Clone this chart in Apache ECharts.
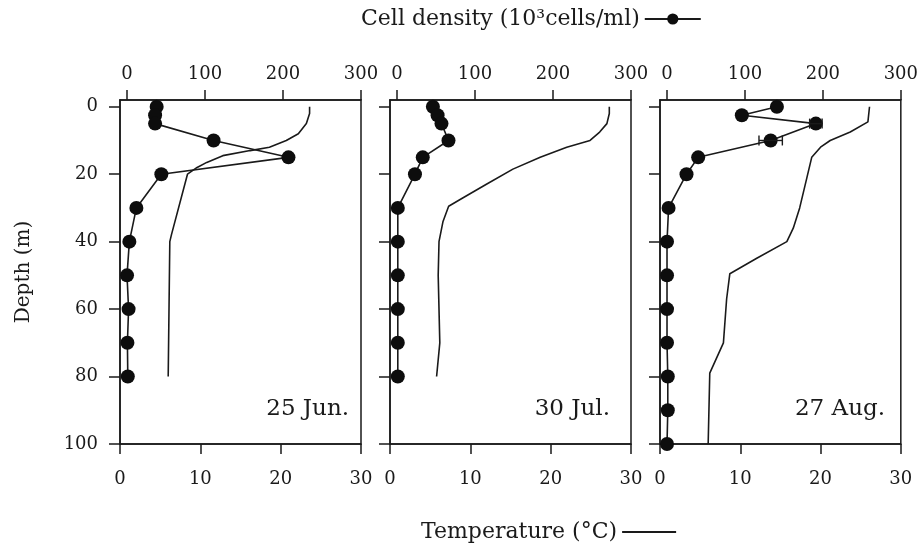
<!DOCTYPE html>
<html>
<head>
<meta charset="utf-8">
<script src="https://cdn.jsdelivr.net/npm/echarts@6/dist/echarts.min.js"></script>
<style>html,body{margin:0;padding:0;background:#fff}#c{width:921px;height:546px}</style>
</head>
<body>
<div id="c"></div>
<script>
// ---- data ----
const panelLabels = ['25 Jun.', '30 Jul.', '27 Aug.'];
const depthTicks = [0, 20, 40, 60, 80, 100];
const cellTicks = [0, 100, 200, 300];
const tempTicks = [0, 10, 20, 30];

const depthCell1 = [0, 2.5, 5, 10, 15, 20, 30, 40, 50, 60, 70, 80];
const cell1 = [38, 36, 36, 111, 207, 44, 12, 3, 0, 2, 0.5, 1];
const depthTemp1 = [0, 2, 5, 8, 10, 12, 13, 14.5, 16.5, 18, 20, 38, 40, 80];
const temp1 = [23.6, 23.6, 23.2, 22.2, 20.7, 18.6, 16.2, 12.8, 10.8, 9.6, 8.4, 6.4, 6.2, 6.0];

const depthCell2 = [0, 2.5, 5, 10, 15, 20, 30, 40, 50, 60, 70, 80];
const cell2 = [46, 52, 57, 66, 33, 23, 1, 1, 1, 1, 1, 1];
const depthTemp2 = [0, 2, 5, 7.5, 10, 12, 15, 18.5, 23, 27, 29.5, 34, 40, 50, 70, 80];
const temp2 = [27.3, 27.3, 27.0, 26.1, 24.9, 22.0, 18.7, 15.3, 12.0, 9.1, 7.3, 6.6, 6.1, 6.0, 6.2, 5.8];

const depthCell3 = [0, 2.5, 5, 10, 15, 20, 30, 40, 50, 60, 70, 80, 90, 100];
const cell3 = [141, 96, 191, 133, 40, 25, 2, 0, 0, 0, 0, 1, 1, 0];
const errDepth3 = [5, 10];
const errCell3 = [191, 133];
const errSize3 = [8, 15];
const depthTemp3 = [0, 4.5, 7.5, 10, 12, 15, 21, 30, 36, 40, 45, 49.5, 57, 70, 79, 100];
const temp3 = [26.1, 25.9, 23.7, 21.2, 20.0, 18.9, 18.3, 17.4, 16.6, 15.8, 12.0, 8.7, 8.3, 7.9, 6.2, 6.0];

const cellName = 'Cell density (10³cells/ml)';
const tempName = 'Temperature (°C)';

// ---- build ----
const FONT = 'DejaVu Serif';
const INK = '#1a1a1a';
const panels = [
  {dc: depthCell1, c: cell1, dt: depthTemp1, t: temp1},
  {dc: depthCell2, c: cell2, dt: depthTemp2, t: temp2},
  {dc: depthCell3, c: cell3, dt: depthTemp3, t: temp3}
];
const lefts = [120, 390, 660];
const grid = [], xAxis = [], yAxis = [], series = [], graphic = [];
const lbl = {fontFamily: FONT, fontSize: 18, color: INK};

panels.forEach((p, i) => {
  grid.push({left: lefts[i], top: 100, width: 241, height: 344, show: true,
    borderColor: INK, borderWidth: 1.5, backgroundColor: 'transparent'});
  xAxis.push({type: 'value', gridIndex: i, position: 'top', min: -9, max: 300,
    axisLine: {show: true, onZero: false, lineStyle: {color: INK, width: 1.5}},
    axisTick: {show: true, inside: false, length: 10, customValues: cellTicks, lineStyle: {color: INK, width: 1.5}},
    axisLabel: Object.assign({customValues: cellTicks, margin: 17}, lbl),
    splitLine: {show: false}});
  xAxis.push({type: 'value', gridIndex: i, position: 'bottom', min: 0, max: 30, interval: 10,
    axisLine: {show: true, onZero: false, lineStyle: {color: INK, width: 1.5}},
    axisTick: {show: true, inside: false, length: 10, customValues: tempTicks, lineStyle: {color: INK, width: 1.5}},
    axisLabel: Object.assign({customValues: tempTicks, margin: 26}, lbl),
    splitLine: {show: false}});
  const y = {type: 'value', gridIndex: i, inverse: true, min: -2, max: 100,
    axisLine: {show: true, onZero: false, lineStyle: {color: INK, width: 1.5}},
    axisTick: {show: true, inside: false, length: 11, customValues: depthTicks, lineStyle: {color: INK, width: 1.5}},
    axisLabel: Object.assign({customValues: depthTicks, margin: 22, show: i === 0}, lbl),
    splitLine: {show: false}};
  if (i === 0) {
    Object.assign(y, {name: 'Depth (m)', nameLocation: 'middle', nameRotate: 90, nameGap: 86,
      nameTextStyle: {fontFamily: FONT, fontSize: 20, color: INK}});
  }
  yAxis.push(y);
  series.push({name: tempName, type: 'line', xAxisIndex: 2 * i + 1, yAxisIndex: i,
    data: p.dt.map((d, k) => [p.t[k], d]), symbol: 'none', showSymbol: false, z: 2,
    lineStyle: {color: INK, width: 1.6}, itemStyle: {color: INK}});
  series.push({name: cellName, type: 'line', xAxisIndex: 2 * i, yAxisIndex: i,
    data: p.dc.map((d, k) => [p.c[k], d]), symbol: 'circle', symbolSize: 14, z: 4,
    lineStyle: {color: INK, width: 1.6}, itemStyle: {color: '#0d0d0d'}});
  graphic.push({type: 'text', right: 921 - (lefts[i] + 241) + (i === 0 ? 12 : i === 1 ? 21 : 16), top: 398,
    style: {text: panelLabels[i], font: '23px "DejaVu Serif"', fill: INK}});
});

series.push({name: 'err', type: 'custom', xAxisIndex: 4, yAxisIndex: 2, z: 5,
  data: errDepth3.map((d, k) => [errCell3[k], d, errSize3[k]]),
  encode: {x: 0, y: 1},
  renderItem: function (params, api) {
    const v = api.value(0), d = api.value(1), e = api.value(2);
    const a = api.coord([v - e, d]), b = api.coord([v + e, d]);
    const st = {stroke: INK, lineWidth: 1.4};
    return {type: 'group', children: [
      {type: 'line', shape: {x1: a[0], y1: a[1], x2: b[0], y2: b[1]}, style: st},
      {type: 'line', shape: {x1: a[0], y1: a[1] - 5, x2: a[0], y2: a[1] + 5}, style: st},
      {type: 'line', shape: {x1: b[0], y1: b[1] - 5, x2: b[0], y2: b[1] + 5}, style: st}
    ]};
  }});

const option = {
  animation: false,
  backgroundColor: '#fff',
  grid, xAxis, yAxis, series, graphic,
  legend: [
    {data: [cellName], left: 356, top: 3, align: 'right', itemWidth: 56, itemHeight: 14, itemGap: 0,
      textStyle: {fontFamily: FONT, fontSize: 22, color: INK}},
    {data: [{name: tempName, icon: 'rect'}], left: 416, top: 516, align: 'right', itemWidth: 54, itemHeight: 2, itemGap: 0,
      itemStyle: {color: INK, borderWidth: 0},
      textStyle: {fontFamily: FONT, fontSize: 22, color: INK}}
  ]
};
const chart = echarts.init(document.getElementById('c'), null, {renderer: 'canvas'});
chart.setOption(option);
</script>
</body>
</html>
